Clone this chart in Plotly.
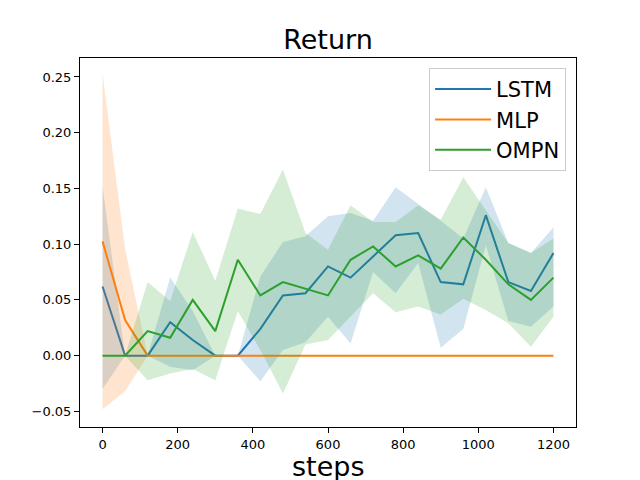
import plotly.graph_objects as go

OUTPUT_FILE = 'out.html'

# training steps
steps = [0, 60, 120, 180, 240, 300, 360, 420, 480, 540, 600,
         660, 720, 780, 840, 900, 960, 1020, 1080, 1140, 1200]

# mean return and shaded band (lower / upper) for each model
lstm_mean = [0.062, 0.0, 0.0, 0.030, 0.014, 0.0, 0.0, 0.024, 0.054, 0.056, 0.080,
             0.070, 0.089, 0.108, 0.110, 0.066, 0.064, 0.126, 0.066, 0.058, 0.092]
lstm_upper = [0.152, 0.0, 0.0, 0.070, 0.040, 0.0, 0.0, 0.071, 0.102, 0.107, 0.125,
              0.128, 0.121, 0.151, 0.136, 0.121, 0.105, 0.151, 0.101, 0.092, 0.115]
lstm_lower = [-0.030, 0.0, 0.0, -0.010, -0.013, 0.0, 0.0, -0.023, 0.005, 0.012, 0.035,
              0.011, 0.075, 0.056, 0.083, 0.007, 0.024, 0.099, 0.031, 0.026, 0.044]

mlp_mean = [0.1025, 0.032, 0.0, 0.0, 0.0, 0.0, 0.0, 0.0, 0.0, 0.0, 0.0,
            0.0, 0.0, 0.0, 0.0, 0.0, 0.0, 0.0, 0.0, 0.0, 0.0]
mlp_upper = [0.253, 0.096, 0.0, 0.0, 0.0, 0.0, 0.0, 0.0, 0.0, 0.0, 0.0,
             0.0, 0.0, 0.0, 0.0, 0.0, 0.0, 0.0, 0.0, 0.0, 0.0]
mlp_lower = [-0.048, -0.032, 0.0, 0.0, 0.0, 0.0, 0.0, 0.0, 0.0, 0.0, 0.0,
             0.0, 0.0, 0.0, 0.0, 0.0, 0.0, 0.0, 0.0, 0.0, 0.0]

ompn_mean = [0.0, 0.0, 0.022, 0.016, 0.050, 0.022, 0.086, 0.054, 0.066, 0.060, 0.054,
             0.086, 0.098, 0.080, 0.090, 0.078, 0.106, 0.086, 0.064, 0.050, 0.070]
ompn_upper = [0.0, 0.0, 0.066, 0.049, 0.111, 0.067, 0.132, 0.127, 0.167, 0.110, 0.095,
              0.135, 0.120, 0.120, 0.135, 0.122, 0.160, 0.130, 0.101, 0.092, 0.105]
ompn_lower = [0.0, 0.0, -0.022, -0.016, -0.012, -0.022, 0.040, 0.005, -0.034, 0.010, 0.014,
              0.035, 0.056, 0.039, 0.044, 0.037, 0.051, 0.041, 0.029, 0.008, 0.035]

series = [
    ('LSTM', lstm_mean, lstm_lower, lstm_upper, '#1f77b4', 'rgba(31,119,180,0.2)'),
    ('MLP', mlp_mean, mlp_lower, mlp_upper, '#ff7f0e', 'rgba(255,127,14,0.2)'),
    ('OMPN', ompn_mean, ompn_lower, ompn_upper, '#2ca02c', 'rgba(44,160,44,0.2)'),
]

FONT = 'DejaVu Sans'

fig = go.Figure()

for name, mean, lower, upper, color, fill in series:
    # shaded band: upper edge forward, lower edge back
    fig.add_trace(go.Scatter(
        x=steps + steps[::-1], y=upper + lower[::-1],
        fill='toself', fillcolor=fill, line=dict(width=0),
        mode='lines', hoverinfo='skip', showlegend=False))
    fig.add_trace(go.Scatter(
        x=steps, y=mean, mode='lines', name=name,
        line=dict(color=color, width=2)))

# page body has an 8px margin, so the figure is 8px smaller than the window
fig.update_layout(
    width=632, height=472,
    margin=dict(l=72, r=64, t=50, b=53),
    paper_bgcolor='white', plot_bgcolor='white',
    font=dict(family=FONT, color='black', size=13),
    title=dict(text='Return', font=dict(family=FONT, size=27),
               x=0.5, xanchor='center', xref='paper',
               y=1 - 32 / 472, yanchor='middle', yref='container'),
    legend=dict(x=0.98, y=0.973, xanchor='right', yanchor='top',
                font=dict(family=FONT, size=21), itemwidth=56,
                bgcolor='rgba(255,255,255,0.8)', bordercolor='#cccccc', borderwidth=1),
    showlegend=True,
)

# x-axis label placed just under the tick labels, as in the reference
fig.add_annotation(text='steps', x=0.5, y=-0.107, xref='paper', yref='paper',
                   xanchor='center', yanchor='middle', showarrow=False,
                   font=dict(family=FONT, size=27))

fig.update_xaxes(
    range=[-60, 1260], tickvals=[0, 200, 400, 600, 800, 1000, 1200],
    showgrid=False, zeroline=False, automargin=False,
    showline=True, mirror=True, linecolor='black', linewidth=1,
    ticks='outside', ticklen=5, tickwidth=1, tickcolor='black',
)
fig.update_yaxes(
    range=[-0.064, 0.267], tickvals=[-0.05, 0.0, 0.05, 0.10, 0.15, 0.20, 0.25],
    tickformat='.2f',
    showgrid=False, zeroline=False, automargin=False,
    showline=True, mirror=True, linecolor='black', linewidth=1,
    ticks='outside', ticklen=5, tickwidth=1, tickcolor='black',
)

fig.write_html(OUTPUT_FILE)
print(f'Saved: {OUTPUT_FILE}')
